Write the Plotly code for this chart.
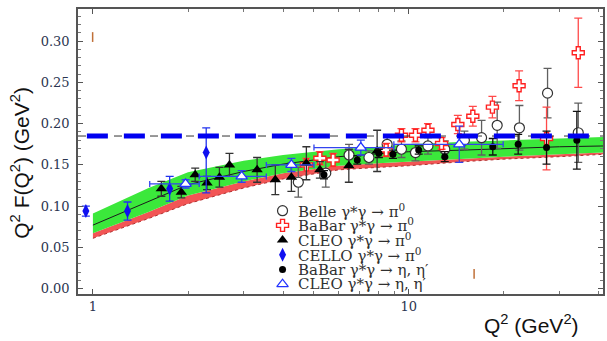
import math
import plotly.graph_objects as go

# ---------------- theory band (Q^2 in GeV^2, Q^2 F(Q^2) in GeV) ----------------
band_q2 = [1.0, 1.5, 2.0, 3.0, 4.0, 6.0, 8.0, 10.0, 15.0, 20.0, 30.0, 42.0]
band_top = [0.091, 0.122, 0.141, 0.155, 0.162, 0.169, 0.172, 0.175, 0.178, 0.180, 0.182, 0.184]
band_mid = [0.067, 0.093, 0.113, 0.130, 0.140, 0.149, 0.152, 0.154, 0.158, 0.160, 0.163, 0.165]
band_low = [0.061, 0.085, 0.103, 0.122, 0.133, 0.144, 0.147, 0.149, 0.154, 0.157, 0.160, 0.163]
band_central = [0.077, 0.106, 0.126, 0.142, 0.151, 0.160, 0.163, 0.166, 0.168, 0.170, 0.172, 0.173]

# asymptotic limit sqrt(2) f_pi
asymptote = 0.185
asym_blue_q2 = [0.957, 37.7]

# ---------------- measurements ----------------
belle_q2 = [4.47, 5.46, 6.47, 7.48, 8.54, 9.48, 10.5, 11.5, 13.0, 15.0, 17.0, 19.05, 22.4, 27.5, 34.4]
belle_f = [0.129, 0.140, 0.162, 0.159, 0.175, 0.169, 0.165, 0.173, 0.169, 0.180, 0.183, 0.198, 0.195, 0.237, 0.189]
belle_err = [0.018, 0.017, 0.013, 0.008, 0.010, 0.010, 0.010, 0.010, 0.010, 0.011, 0.021, 0.028, 0.027, 0.030, 0.036]

babar_pi_q2 = [4.74, 5.23, 5.76, 8.48, 9.48, 10.5, 11.5, 12.7, 14.3, 15.95, 18.4, 22.35, 27.3, 34.4]
babar_pi_f = [0.150, 0.158, 0.156, 0.168, 0.186, 0.186, 0.192, 0.176, 0.199, 0.209, 0.220, 0.246, 0.182, 0.286]
babar_pi_err = [0.008, 0.008, 0.008, 0.008, 0.008, 0.008, 0.008, 0.007, 0.011, 0.012, 0.013, 0.018, 0.038, 0.042]

cleo_pi_q2 = [1.647, 1.905, 2.108, 2.297, 2.515, 2.706, 3.31, 3.78, 4.25, 4.74, 5.23, 6.46, 7.94]
cleo_pi_f = [0.121, 0.117, 0.138, 0.128, 0.135, 0.150, 0.144, 0.132, 0.135, 0.152, 0.144, 0.149, 0.167]
cleo_pi_err = [0.009, 0.007, 0.008, 0.008, 0.012, 0.014, 0.015, 0.018, 0.017, 0.020, 0.010, 0.020, 0.025]

cello_q2 = [0.95, 1.287, 1.75, 2.284]
cello_f = [0.094, 0.094, 0.121, 0.165]
cello_err_up = [0.006, 0.011, 0.015, 0.030]
cello_err_dn = [0.006, 0.011, 0.015, 0.049]

babar_eta_q2 = [5.39, 6.87, 8.04, 8.91, 10.75, 13.0, 18.45, 22.2, 27.3, 34.05]
babar_eta_f = [0.138, 0.156, 0.164, 0.163, 0.168, 0.160, 0.172, 0.175, 0.171, 0.180]
babar_eta_err = [0.005, 0.005, 0.005, 0.005, 0.005, 0.006, 0.010, 0.012, 0.020, 0.035]

cleo_eta_q2 = [1.965, 2.958, 4.25, 7.05, 14.45]
cleo_eta_f = [0.127, 0.136, 0.150, 0.171, 0.175]
cleo_eta_err = [0.005, 0.007, 0.008, 0.009, 0.022]
cleo_eta_q2_lo = [1.513, 2.17, 3.54, 5.01, 8.97]
cleo_eta_q2_hi = [2.17, 3.54, 5.01, 8.97, 19.9]

stray_q2 = [0.998, 16.1]
stray_f = [0.305, 0.018]

x_range = [0.897, 41.2]
y_range = [-0.0065, 0.339]
y_ticks = [0.0, 0.05, 0.10, 0.15, 0.20, 0.25, 0.30]
x_ticks = [1, 10]
x_minor = [2, 3, 4, 5, 6, 7, 8, 9, 20, 30, 40]

GREEN = "#3be83b"
RED = "#f25555"
SERIF = "DejaVu Serif"
SANS = "Liberation Sans"
NB = "\u00a0"

fig = go.Figure()

# band: red lower strip then green upper strip
fig.add_trace(go.Scatter(x=band_q2, y=band_low, mode="lines",
                         line=dict(color="#b03030", width=1, dash="3px,3px"),
                         hoverinfo="skip"))
fig.add_trace(go.Scatter(x=band_q2, y=band_mid, mode="lines", line=dict(width=0),
                         fill="tonexty", fillcolor=RED, hoverinfo="skip"))
fig.add_trace(go.Scatter(x=band_q2, y=band_top, mode="lines", line=dict(width=0),
                         fill="tonexty", fillcolor=GREEN, hoverinfo="skip"))
fig.add_trace(go.Scatter(x=band_q2, y=band_central, mode="lines",
                         line=dict(color="#1a1a1a", width=1), hoverinfo="skip"))

PI0 = "γ*γ" + NB + "→" + NB + "π<sup>0</sup>"
ETA = "γ*γ" + NB + "→" + NB + "η, η′"

series = [
    dict(name="Belle", label="Belle " + PI0,
         x=belle_q2, y=belle_f, ey=dict(type="data", array=belle_err, color="#606060", thickness=1.3, width=4),
         marker=dict(symbol="circle", size=10, color="white", line=dict(color="#333333", width=1.2))),
    dict(name="BaBar pi0", label="BaBar " + PI0,
         x=babar_pi_q2, y=babar_pi_f, ey=dict(type="data", array=babar_pi_err, color="#ff4a4a", thickness=1.3, width=4),
         marker=dict(symbol="cross", size=10, color="white", line=dict(color="#ff2020", width=1.4))),
    dict(name="CLEO pi0", label="CLEO " + PI0,
         x=cleo_pi_q2, y=cleo_pi_f, ey=dict(type="data", array=cleo_pi_err, color="#333333", thickness=1.3, width=4),
         marker=dict(symbol="triangle-up", size=10, color="#000000", line=dict(width=0))),
    dict(name="CELLO", label="CELLO " + PI0,
         x=cello_q2, y=cello_f,
         ey=dict(type="data", array=cello_err_up, arrayminus=cello_err_dn, color="#2233ee", thickness=1.3, width=4),
         marker=dict(symbol="diamond-tall", size=10, color="#1010f0", line=dict(width=0))),
    dict(name="BaBar eta", label="BaBar " + ETA,
         x=babar_eta_q2, y=babar_eta_f, ey=dict(type="data", array=babar_eta_err, color="#111111", thickness=1.3, width=4),
         marker=dict(symbol="circle", size=7, color="#000000", line=dict(width=0))),
    dict(name="CLEO eta", label="CLEO " + ETA,
         x=cleo_eta_q2, y=cleo_eta_f, ey=dict(type="data", array=cleo_eta_err, color="#3344ee", thickness=1.3, width=4),
         ex=dict(type="data",
                 array=[h - q for h, q in zip(cleo_eta_q2_hi, cleo_eta_q2)],
                 arrayminus=[q - l for l, q in zip(cleo_eta_q2_lo, cleo_eta_q2)],
                 color="#3344ee", thickness=1.3, width=3),
         marker=dict(symbol="triangle-up", size=10, color="white", line=dict(color="#2233ff", width=1.3))),
]

for s in series:
    fig.add_trace(go.Scatter(x=s["x"], y=s["y"], mode="markers", name=s["name"],
                             marker=s["marker"], error_y=s["ey"], error_x=s.get("ex")))

fig.add_trace(go.Scatter(x=stray_q2, y=stray_f, mode="markers",
                         marker=dict(symbol="line-ns", size=7, line=dict(color="#c07038", width=1.5)),
                         hoverinfo="skip"))

# asymptotic value: thin black dashes under thick blue dashes
fig.add_trace(go.Scatter(x=x_range, y=[asymptote, asymptote], mode="lines",
                         line=dict(color="#333333", width=1, dash="8px,10px"), hoverinfo="skip"))
fig.add_trace(go.Scatter(x=asym_blue_q2, y=[asymptote, asymptote], mode="lines",
                         line=dict(color="#0000f0", width=5, dash="21px,16px"), hoverinfo="skip"))

# key: symbols on an overlay axis, labels as annotations
key_x = 0.3896
key_text_x = 0.415
key_top_px = 210.7
key_step_px = 14.7
plot_h = 285.0
annotations = []
for i, s in enumerate(series):
    ky = (285 - (key_top_px - 9) - i * key_step_px) / plot_h
    fig.add_trace(go.Scatter(x=[key_x], y=[ky], mode="markers", marker=s["marker"],
                             xaxis="x2", yaxis="y2", hoverinfo="skip"))
    annotations.append(dict(x=key_text_x, y=ky, xref="paper", yref="paper", text=s["label"],
                            showarrow=False, xanchor="left", yanchor="middle",
                            font=dict(family=SERIF, size=15, color="#303030")))

annotations.append(dict(x=(533 - 78) / 527, y=(294 - 324) / 285, xref="paper", yref="paper",
                        text="Q<sup>2</sup> (GeV<sup>2</sup>)", showarrow=False,
                        xanchor="center", yanchor="middle",
                        font=dict(family=SANS, size=21, color="#111111")))
annotations.append(dict(x=(19 - 78) / 527, y=(294 - 162.5) / 285, xref="paper", yref="paper",
                        text="Q<sup>2</sup> F(Q<sup>2</sup>) (GeV<sup>2</sup>)", showarrow=False,
                        textangle=-90, xanchor="center", yanchor="middle",
                        font=dict(family=SANS, size=21, color="#111111")))

axis_common = dict(showline=True, linecolor="#555555", linewidth=1.5, mirror="allticks",
                   ticks="inside", ticklen=5, tickwidth=1, tickcolor="#555555",
                   showgrid=False, zeroline=False,
                   tickfont=dict(family=SERIF, size=13, color="#2b3550"))

fig.update_layout(
    width=607, height=341,
    margin=dict(l=78, r=2, t=9, b=47),
    plot_bgcolor="white", paper_bgcolor="white",
    showlegend=False,
    annotations=annotations,
    xaxis=dict(type="log", range=[math.log10(x_range[0]), math.log10(x_range[1])],
               tickvals=x_ticks, ticktext=[str(v) for v in x_ticks],
               minor=dict(tickvals=x_minor, ticks="inside", ticklen=3, tickcolor="#777777", showgrid=False),
               **axis_common),
    yaxis=dict(range=y_range, tickvals=y_ticks, ticktext=[f"{v:.2f}" for v in y_ticks],
               ticklabelstandoff=4,
               minor=dict(dtick=0.01, ticks="inside", ticklen=3, tickcolor="#777777", showgrid=False),
               **axis_common),
    xaxis2=dict(overlaying="x", range=[0, 1], visible=False),
    yaxis2=dict(overlaying="y", range=[0, 1], visible=False),
)

fig.write_html("out.html")
